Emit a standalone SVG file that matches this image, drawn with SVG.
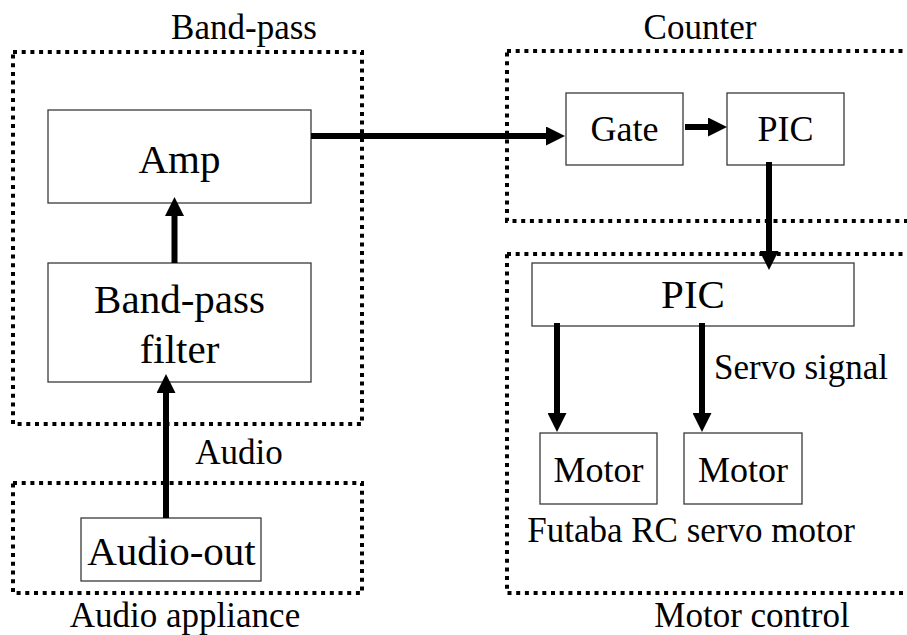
<svg xmlns="http://www.w3.org/2000/svg" width="907" height="635" viewBox="0 0 907 635" font-family="'Liberation Serif', 'Times New Roman', serif">
  <style>
    .group { fill: none; stroke: #000; stroke-width: 4; stroke-dasharray: 4 4.7; }
    .box { fill: #fff; stroke: #3a3a3a; stroke-width: 1.3; }
    .wire { fill: none; stroke: #000; stroke-width: 6; marker-end: url(#head); }
    .lbl { font-family: 'Liberation Serif', 'Times New Roman', serif; fill: #000; text-anchor: middle; }
    .big { font-size: 41px; }
    .mid { font-size: 36px; }
    .small { font-size: 35px; }
  </style>
  <defs>
    <marker id="head" markerUnits="userSpaceOnUse" viewBox="0 0 19 19" markerWidth="19" markerHeight="19" refX="1" refY="9.5" orient="auto">
      <path d="M0,0 L19,9.5 L0,19 Z" fill="#000"/>
    </marker>
  </defs>
  <rect width="907" height="635" fill="#fff"/>

  <!-- grouping frames and their captions -->
  <g id="frames">
    <rect class="group" x="13" y="52" width="349" height="372"/>
    <rect class="group" x="13" y="483" width="349" height="110"/>
    <rect class="group" x="507" y="51" width="420" height="170"/>
    <rect class="group" x="507" y="254" width="420" height="339"/>
    <text class="lbl small" x="244" y="39">Band-pass</text>
    <text class="lbl small" x="700" y="39">Counter</text>
    <text class="lbl small" x="239" y="464">Audio</text>
    <text class="lbl small" x="185" y="627">Audio appliance</text>
    <text class="lbl small" x="752" y="627">Motor control</text>
    <text class="lbl small" x="691" y="542">Futaba RC servo motor</text>
    <text class="lbl small" x="801" y="379">Servo signal</text>
  </g>

  <!-- blocks -->
  <g id="amp">
    <rect class="box" x="48" y="110" width="263" height="93"/>
    <text class="lbl big" x="179.5" y="173">Amp</text>
  </g>
  <g id="bandpass-filter">
    <rect class="box" x="48" y="263" width="263" height="119"/>
    <text class="lbl big" x="179.5" y="313">Band-pass</text>
    <text class="lbl big" x="179.5" y="363">filter</text>
  </g>
  <g id="audio-out">
    <rect class="box" x="81" y="518" width="180" height="63"/>
    <text class="lbl big" x="171.5" y="565">Audio-out</text>
  </g>
  <g id="gate">
    <rect class="box" x="566" y="93" width="117" height="72"/>
    <text class="lbl mid" x="624.5" y="141">Gate</text>
  </g>
  <g id="pic-counter">
    <rect class="box" x="727" y="93" width="117" height="72"/>
    <text class="lbl mid" x="785.5" y="141">PIC</text>
  </g>
  <g id="pic-motor">
    <rect class="box" x="532" y="263" width="322" height="63"/>
    <text class="lbl big" x="693" y="308">PIC</text>
  </g>
  <g id="motor-1">
    <rect class="box" x="540" y="433" width="117" height="71"/>
    <text class="lbl mid" x="598.5" y="482">Motor</text>
  </g>
  <g id="motor-2">
    <rect class="box" x="684" y="433" width="118" height="71"/>
    <text class="lbl mid" x="743" y="482">Motor</text>
  </g>

  <!-- connectors, drawn over the block edges -->
  <g id="connectors">
    <path class="wire" d="M311,136 H547"/>
    <path class="wire" d="M685,127 H709"/>
    <path class="wire" d="M769,162 V252"/>
    <path class="wire" d="M557,323 V414"/>
    <path class="wire" d="M702,323 V414"/>
    <path class="wire" d="M174.5,263 V215"/>
    <path class="wire" d="M166,518 V392"/>
  </g>
</svg>
